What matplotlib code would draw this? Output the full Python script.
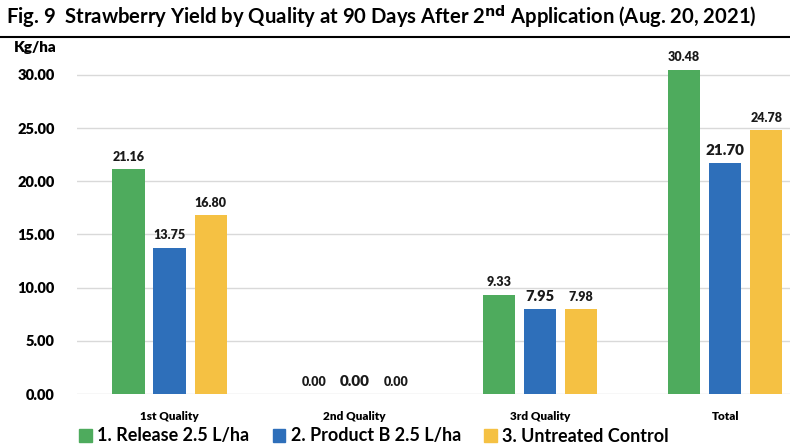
import numpy as np
import matplotlib
matplotlib.use("Agg")
from matplotlib import pyplot as plt
from matplotlib.patches import Patch

plt.rcParams["font.family"] = ["Lato", "DejaVu Sans"]

categories = ["1st Quality", "2nd Quality", "3rd Quality", "Total"]
series_names = ["1. Release 2.5 L/ha", "2. Product B 2.5 L/ha", "3. Untreated Control"]
release = [21.16, 0.00, 9.33, 30.48]
product_b = [13.75, 0.00, 7.95, 21.70]
control = [16.80, 0.00, 7.98, 24.78]
yticks = [0, 5, 10, 15, 20, 25, 30]

colors = ["#4EAB5D", "#2E6FBA", "#F5C143"]
# blue labels are a bit bigger in the original, except the first one
label_sizes = [
    [9, 9, 9, 9],
    [9, 11, 10.5, 11],
    [9, 9, 9, 9],
]

fig = plt.figure(figsize=(7.9, 4.46), dpi=100)
ax = fig.add_axes([77 / 790, 1 - 394 / 446, 1 - 77 / 790, (394 - 53.6) / 446])

x = np.arange(len(categories))
width = 0.175
step = 0.222
for i, vals in enumerate([release, product_b, control]):
    bars = ax.bar(x + (i - 1) * step, vals, width, color=colors[i], zorder=3)
    for j, b in enumerate(bars):
        ax.text(b.get_x() + b.get_width() / 2, b.get_height() + 0.6,
                f"{vals[j]:.2f}", ha="center", va="bottom",
                fontsize=label_sizes[i][j], fontweight="heavy", color="#1a1a1a")

ax.set_xlim(-0.5, 3.35)
ax.set_ylim(0, 32)
ax.set_yticks(yticks)
ax.set_yticklabels([f"{v:.2f}" for v in yticks], fontsize=10.5, fontweight="heavy")
ax.yaxis.grid(True, color="#d9d9d9", linewidth=1, zorder=0)
ax.set_xticks(x)
ax.set_xticklabels(categories, fontsize=8.5, fontweight="heavy")
ax.tick_params(axis="both", length=0, pad=12)
ax.tick_params(axis="y", pad=16)
for s in ax.spines.values():
    s.set_visible(False)

fig.text(14 / 790, 1 - 48 / 446, "Kg/ha", fontsize=11, fontweight="heavy", va="center")

fig.text(6 / 790, 1 - 17 / 446,
         r"Fig. 9  Strawberry Yield by Quality at 90 Days After 2$^{\mathbf{nd}}$ Application (Aug. 20, 2021)",
         fontsize=14.6, fontweight="bold", va="center")
fig.add_artist(plt.Line2D([0, 1], [1 - 37 / 446, 1 - 37 / 446], color="black", linewidth=1.5))

handles = [Patch(color=c) for c in colors]
fig.legend(handles, series_names, loc="center", bbox_to_anchor=(374 / 790, 1 - 436 / 446),
           ncol=3, frameon=False, prop={"size": 13, "weight": "bold"},
           handlelength=0.7, handleheight=0.7, handletextpad=0.3, columnspacing=1.3)

fig.savefig("out.png", dpi=100)
